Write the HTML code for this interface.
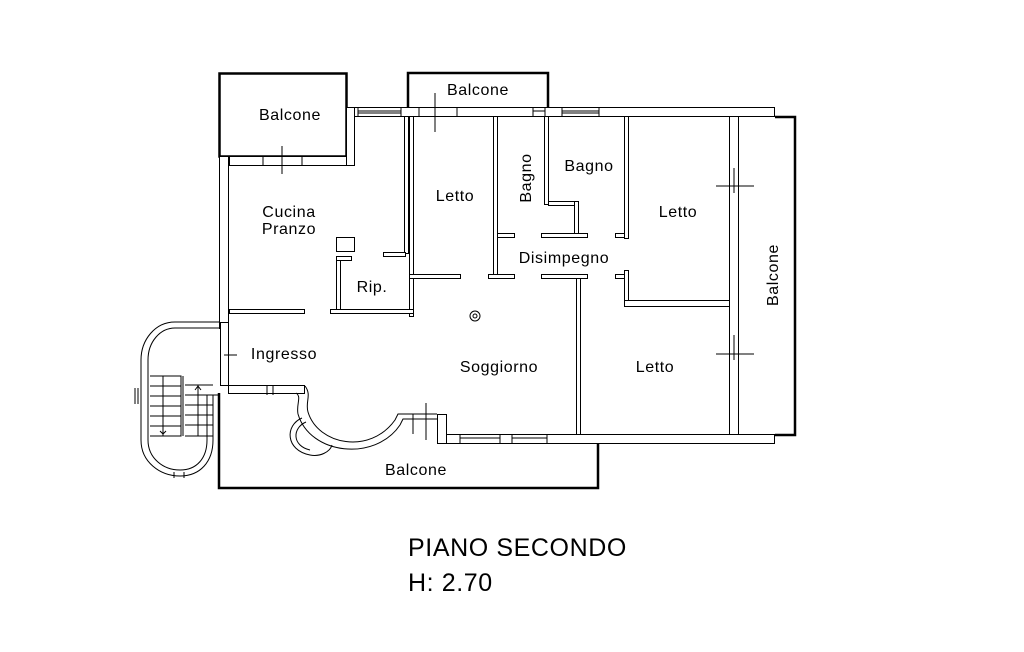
<!DOCTYPE html>
<html><head><meta charset="utf-8"><style>
html,body{margin:0;padding:0;background:#fff;}
svg{display:block}
text{font-family:"Liberation Sans",Arial,sans-serif;fill:#000}
</style></head><body>
<svg width="1024" height="652" viewBox="0 0 1024 652" xmlns="http://www.w3.org/2000/svg">
<g fill="#fff" stroke="#000" stroke-width="1">
<rect x="219.5" y="73.5" width="127" height="83" stroke-width="2.5"/>
<path d="M408 107 V73 H548 V107" fill="none" stroke-width="2.5"/>
<rect x="738.5" y="116.5" width="57" height="318" stroke-width="1"/>
<path d="M775 117 H795 V435 H775" fill="none" stroke-width="2.5"/>
<path d="M219 393 V488 H598 V442" fill="none" stroke-width="2.5"/>
<rect x="346.5" y="107.5" width="428" height="9"/>
<rect x="229.5" y="156.5" width="124" height="9"/>
<rect x="346.5" y="107.5" width="8" height="58"/>
<rect x="219.5" y="156.5" width="9" height="172"/>
<rect x="220.5" y="322.5" width="8" height="63"/>
<rect x="404.5" y="116.5" width="4" height="137"/>
<rect x="409.5" y="116.5" width="4" height="200"/>
<rect x="383.5" y="252.5" width="22" height="4"/>
<rect x="409.5" y="274.5" width="51" height="4"/>
<rect x="336.5" y="256.5" width="4" height="57"/>
<rect x="336.5" y="256.5" width="15" height="4"/>
<rect x="336.5" y="237.5" width="18" height="14"/>
<rect x="330.5" y="309.5" width="83" height="4"/>
<rect x="229.5" y="309.5" width="75" height="4"/>
<rect x="493.5" y="116.5" width="4" height="158"/>
<rect x="497.5" y="233.5" width="17" height="4"/>
<rect x="488.5" y="274.5" width="26" height="4"/>
<rect x="544.5" y="116.5" width="4" height="88"/>
<rect x="548.5" y="201.5" width="28" height="4"/>
<rect x="574.5" y="201.5" width="4" height="34"/>
<rect x="541.5" y="233.5" width="46" height="4"/>
<rect x="541.5" y="274.5" width="46" height="4"/>
<rect x="576.5" y="278.5" width="4" height="156"/>
<rect x="624.5" y="116.5" width="4" height="122"/>
<rect x="615.5" y="233.5" width="9" height="4"/>
<rect x="615.5" y="274.5" width="9" height="4"/>
<rect x="624.5" y="270.5" width="4" height="35"/>
<rect x="624.5" y="300.5" width="106" height="6"/>
<rect x="729.5" y="116.5" width="9" height="318"/>
<rect x="437.5" y="434.5" width="337" height="9"/>
<rect x="437.5" y="414.5" width="9" height="29"/>
<rect x="228.5" y="385.5" width="76" height="8"/>
</g>
<g fill="none" stroke="#000" stroke-width="1">
<path d="M358 107V117M401 107V117M358 111H401M358 113H401"/>
<path d="M419 107V117M457 107V117M533 107V117M545 107V117M533 111H545"/>
<path d="M562 107V117M599 107V117M562 111H599M562 113H599"/>
<path d="M263 156V166M302 156V166"/>
<path d="M282 146V174M435 93V132M224 355H237"/>
<path d="M734 168V193M716 186H754M734 335V360M716 354H754"/>
<path d="M460 434V444M500 434V444M512 434V444M547 434V444M460 438H500M512 438H547"/>
<path d="M267 385V395M273 385V395"/>
<circle cx="475" cy="316" r="5"/><circle cx="475" cy="316" r="2"/>
</g>
<g fill="none" stroke="#000" stroke-width="1">
<path d="M305 386 C312 395 305 402 308 412 C318 445 370 455 395 420 L398 414 H437"/>
<path d="M296 393 C302 397 296 404 298 414 C310 455 375 462 400 425 L403 419 H437"/>
<path d="M302 418 C285 425 285 450 310 455 C320 457 330 452 332 445"/>
<path d="M306 422 C292 428 292 446 310 450"/>
<path d="M413 414V434M426 403V440"/>
</g>
<g fill="none" stroke="#000" stroke-width="1">
<path d="M219 322 H175 C155 322 141 340 141 360 V440 C141 462 160 476 180 476 C200 476 213 462 213 440 V395 H219"/>
<path d="M219 328 H175 C160 328 148 342 148 360 V440 C148 458 163 470 180 470 C197 470 207 458 207 440 V395"/>
<path d="M150 376 H181 V436 H150 M183 376 V436 M185 385 H213 M185 436 H213"/>
<path d="M150 386H181M150 396H181M150 406H181M150 416H181M150 426H181M185 395H213M185 405H213M185 415H213M185 425H213"/>
<path d="M163 376V436M198 385V436M198 386L195 390M198 386L201 390M163 434L160 431M163 434L166 431"/>
<path d="M135 388V404M138 388V404M174 472V478M184 472V478"/>
</g>
<g font-size="16" letter-spacing="0.6" text-anchor="middle">
<text x="290" y="120">Balcone</text>
<text x="478" y="95">Balcone</text>
<text x="455" y="201">Letto</text>
<text x="589" y="171">Bagno</text>
<text transform="translate(531,178) rotate(-90)">Bagno</text>
<text x="678" y="217">Letto</text>
<text x="289" y="217">Cucina</text>
<text x="289" y="234">Pranzo</text>
<text x="564" y="263">Disimpegno</text>
<text x="372" y="292">Rip.</text>
<text x="284" y="359">Ingresso</text>
<text x="499" y="372">Soggiorno</text>
<text x="655" y="372">Letto</text>
<text transform="translate(778,275) rotate(-90)">Balcone</text>
<text x="416" y="475">Balcone</text>
</g>
<text x="408" y="556" font-size="25" letter-spacing="0.6">PIANO SECONDO</text>
<text x="408" y="591" font-size="25" letter-spacing="0.6">H: 2.70</text>
</svg>
</body></html>
